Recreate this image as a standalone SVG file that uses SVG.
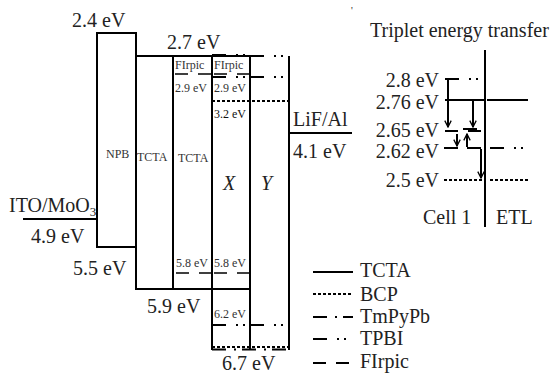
<svg xmlns="http://www.w3.org/2000/svg" width="559" height="377" viewBox="0 0 559 377">
<defs>
<style>
text{font-family:"Liberation Serif","Times New Roman",serif;fill:#222}
.big{font-size:20px}
.sm{font-size:12px;fill:#333}
.it{font-size:20px;font-style:italic}
line,path.l{stroke:#000;stroke-width:2;fill:none}
.bcp{stroke-dasharray:3 2}
.tmp{stroke-dasharray:14 8 2 6}
.tpbi{stroke-dasharray:14 10 2 5 2 8}
.fir{stroke-dasharray:13 10}
.thin{stroke-width:1.6}
</style>
<marker id="arr" viewBox="0 0 10 10" refX="9" refY="5" markerWidth="8" markerHeight="8" markerUnits="userSpaceOnUse" orient="auto">
<path d="M1,1 L9,5 L1,9" fill="none" stroke="#000" stroke-width="1.6"/>
</marker>
</defs>
<rect width="559" height="377" fill="#fff"/>

<g id="npb">
<rect x="97" y="33" width="39" height="214" fill="none" stroke="#000" stroke-width="2"/>
<text class="sm" x="106" y="158" font-size="11">NPB</text>
<text class="big" x="72" y="27">2.4 eV</text>
<text class="big" x="73" y="275">5.5 eV</text>
</g>

<g id="ito">
<line x1="23" y1="219" x2="97" y2="219"/>
<text class="big" x="9" y="212">ITO/MoO<tspan font-size="13" dy="4">3</tspan></text>
<text class="big" x="31" y="243">4.9 eV</text>
</g>

<g id="tcta1">
<line x1="136" y1="56" x2="136" y2="289"/>
<line x1="135" y1="56" x2="250" y2="56"/>
<line x1="135" y1="289" x2="250" y2="289"/>
<line x1="173" y1="56" x2="173" y2="289"/>
<text class="sm" x="137" y="161">TCTA</text>
<text class="big" x="167" y="49">2.7 eV</text>
<text class="big" x="147" y="313">5.9 eV</text>
</g>

<g id="tcta2">
<text class="sm" x="178" y="162">TCTA</text>
<text class="sm" x="175" y="69">FIrpic</text>
<line class="fir thin" x1="175" y1="74" x2="212" y2="74"/>
<text class="sm" x="175" y="92">2.9 eV</text>
<text class="sm" x="176" y="267">5.8 eV</text>
<line class="fir thin" x1="176" y1="273" x2="212" y2="273"/>
</g>

<g id="x">
<line x1="212" y1="56" x2="212" y2="350"/>
<line x1="250" y1="56" x2="250" y2="350"/>
<line class="tpbi" x1="212" y1="55" x2="250" y2="55" stroke-width="3"/>
<text class="sm" x="214" y="69">FIrpic</text>
<line class="fir thin" x1="214" y1="74" x2="250" y2="74"/>
<line class="tpbi" x1="212" y1="77" x2="250" y2="77"/>
<text class="sm" x="214" y="92">2.9 eV</text>
<line class="bcp" x1="212" y1="101" x2="289" y2="101"/>
<text class="sm" x="214" y="118" style="fill:#111">3.2 eV</text>
<text class="it" x="223" y="190">X</text>
<text class="sm" x="214" y="267">5.8 eV</text>
<line class="fir thin" x1="214" y1="273" x2="250" y2="273"/>
<text class="sm" x="214" y="318">6.2 eV</text>
<line class="tpbi" x1="212" y1="325" x2="250" y2="325"/>
</g>

<g id="y">
<line x1="289" y1="56" x2="289" y2="350"/>
<line class="tpbi" x1="250" y1="56" x2="289" y2="56"/>
<line class="tpbi" x1="250" y1="77" x2="289" y2="77"/>
<text class="it" x="261" y="190">Y</text>
<line class="tpbi" x1="250" y1="325" x2="289" y2="325"/>
</g>

<g id="bottom67">
<line class="bcp" x1="212" y1="347" x2="289" y2="347" stroke-width="2"/>
<line class="tmp" x1="212" y1="349.5" x2="289" y2="349.5" stroke-width="2"/>
<text class="big" x="222" y="370">6.7 eV</text>
</g>

<g id="lifal">
<line x1="289" y1="133" x2="352" y2="133"/>
<text class="big" x="293" y="126">LiF/Al</text>
<text class="big" x="293" y="158">4.1 eV</text>
</g>

<g id="legend">
<line x1="313" y1="272" x2="353" y2="272"/>
<text class="big" x="360" y="277">TCTA</text>
<line class="bcp" x1="313" y1="294" x2="353" y2="294"/>
<text class="big" x="360" y="301">BCP</text>
<line class="tmp" x1="313" y1="317" x2="353" y2="317"/>
<text class="big" x="360" y="323">TmPyPb</text>
<line class="tpbi" x1="313" y1="339" x2="353" y2="339"/>
<text class="big" x="360" y="345">TPBI</text>
<line class="fir" x1="313" y1="363" x2="353" y2="363" stroke-dasharray="15 10"/>
<text class="big" x="360" y="368">FIrpic</text>
</g>

<g id="triplet">
<text x="351" y="14" font-size="10">'</text>
<text class="big" x="370" y="37">Triplet energy transfer</text>
<line x1="485" y1="50" x2="485" y2="227"/>
<text class="big" x="439" y="87" text-anchor="end">2.8 eV</text>
<text class="big" x="439" y="109" text-anchor="end">2.76 eV</text>
<text class="big" x="439" y="137" text-anchor="end">2.65 eV</text>
<text class="big" x="439" y="158" text-anchor="end">2.62 eV</text>
<text class="big" x="439" y="187" text-anchor="end">2.5 eV</text>
<line class="tpbi" x1="445" y1="79" x2="480" y2="79"/>
<line x1="445" y1="100" x2="484" y2="100"/>
<line x1="487" y1="100" x2="528" y2="100"/>
<line class="fir" x1="445" y1="131" x2="483" y2="131"/>
<line class="tmp" x1="463" y1="129" x2="483" y2="129" stroke-width="1.5"/>
<line x1="444" y1="148" x2="458" y2="148"/>
<line x1="467" y1="148" x2="481" y2="148"/>
<line class="tpbi" x1="490" y1="148" x2="528" y2="148"/>
<line class="bcp" x1="444" y1="180" x2="484" y2="180"/>
<line class="bcp" x1="490" y1="180" x2="530" y2="180"/>
<text class="big" x="423" y="224">Cell 1</text>
<text class="big" x="496" y="224">ETL</text>
</g>

<g id="connectors">
<line x1="448" y1="80" x2="448" y2="127" marker-end="url(#arr)"/>
<line x1="473" y1="101" x2="473" y2="127" marker-end="url(#arr)"/>
<line x1="457" y1="134" x2="457" y2="146" marker-end="url(#arr)"/>
<line x1="467" y1="147" x2="467" y2="134" marker-end="url(#arr)"/>
<line x1="481" y1="149" x2="481" y2="178" marker-end="url(#arr)"/>
</g>
</svg>
